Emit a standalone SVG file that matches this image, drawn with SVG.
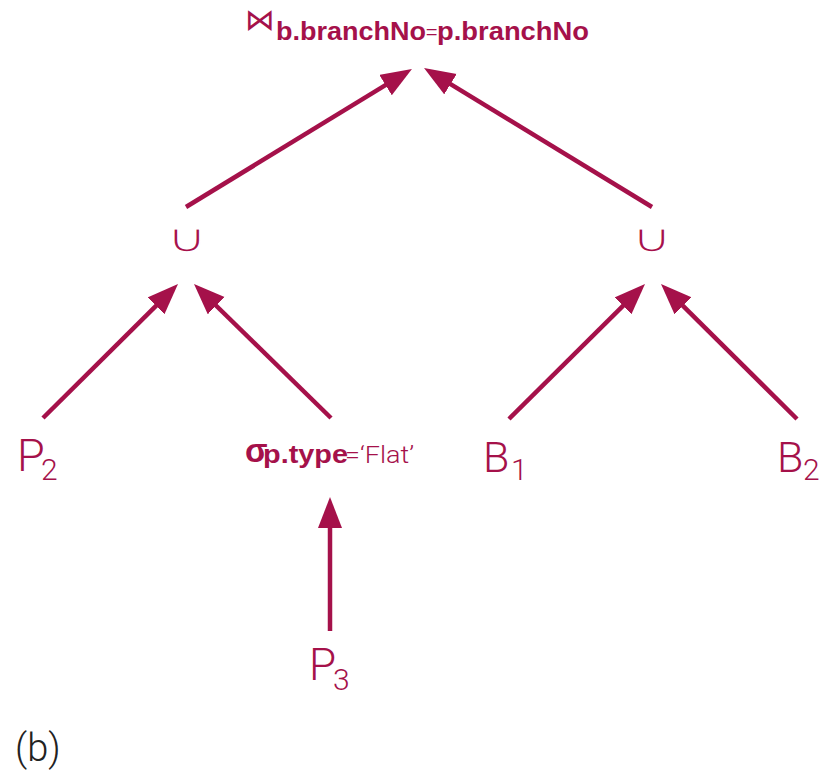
<svg xmlns="http://www.w3.org/2000/svg" width="829" height="773" viewBox="0 0 829 773">
  <style>
    .lbl { fill: #A5114A; font-family: Roboto, "Liberation Sans", sans-serif; font-weight: 300; }
    .sub { font-size: 30px; }
    .bold { fill: #A5114A; font-family: "Liberation Sans", Arial, sans-serif; font-weight: 700; font-size: 26px; }
    .thin { font-family: Roboto, "Liberation Sans", sans-serif; font-weight: 300; font-size: 24px; }
    .sym { fill: #A5114A; font-family: "DejaVu Sans", sans-serif; font-weight: 400; }
    /* union sign: white outline over the fill keeps the stroke light */
    .cup { fill: #A5114A; font-family: "DejaVu Sans", sans-serif; font-size: 56px; text-anchor: middle; stroke: #ffffff; stroke-width: 2; }
    .edge { stroke: #A5114A; stroke-width: 4.5; fill: none; marker-end: url(#head); }
  </style>
  <defs>
    <marker id="head" markerUnits="userSpaceOnUse" markerWidth="32" markerHeight="26" refX="11" refY="12" orient="auto">
      <path d="M0,0 L31,12 L0,24 Z" fill="#A5114A"/>
    </marker>
  </defs>
  <rect width="829" height="773" fill="#ffffff"/>

  <g id="connectors">
    <line class="edge" x1="186" y1="207" x2="394.9" y2="79.4"/>
    <line class="edge" x1="652" y1="207" x2="441.1" y2="78.4"/>
    <line class="edge" x1="43" y1="418" x2="163.8" y2="298.1"/>
    <line class="edge" x1="331" y1="418" x2="208.3" y2="298.0"/>
    <line class="edge" x1="509" y1="419" x2="630.8" y2="298.1"/>
    <line class="edge" x1="797" y1="419" x2="675.2" y2="298.1"/>
    <line class="edge" x1="330" y1="631" x2="330" y2="517"/>
  </g>

  <!-- join operator with its predicate as subscript -->
  <g id="join">
    <text class="bold" x="276" y="40"><tspan class="sym" x="245" y="30" font-size="30">⋈</tspan><tspan x="276" y="40" textLength="150" lengthAdjust="spacingAndGlyphs">b.branchNo</tspan><tspan class="thin" x="425" y="40">=</tspan><tspan x="437" y="40" textLength="152" lengthAdjust="spacingAndGlyphs">p.branchNo</tspan></text>
  </g>

  <g id="union-left">
    <text class="cup" transform="translate(187,252) scale(1,0.72)">∪</text>
  </g>
  <g id="union-right">
    <text class="cup" transform="translate(652,252) scale(1,0.72)">∪</text>
  </g>

  <g id="p2">
    <text class="lbl" x="17" y="471" font-size="45">P<tspan class="sub" x="41" y="480">2</tspan></text>
  </g>

  <g id="select">
    <text class="bold" x="245" y="462"><tspan font-size="33">σ</tspan><tspan x="263" y="463" textLength="85" lengthAdjust="spacingAndGlyphs">p.type</tspan><tspan class="thin" x="345" y="463" textLength="69" lengthAdjust="spacingAndGlyphs">=‘Flat’</tspan></text>
  </g>

  <g id="b1">
    <text class="lbl" x="483" y="472" font-size="43">B<tspan class="sub" x="511" y="480">1</tspan></text>
  </g>

  <g id="b2">
    <text class="lbl" x="777" y="472" font-size="43">B<tspan class="sub" x="803" y="480">2</tspan></text>
  </g>

  <g id="p3">
    <text class="lbl" x="309" y="680" font-size="44">P<tspan class="sub" x="333" y="690">3</tspan></text>
  </g>

  <text x="15" y="761" font-size="38" fill="#222222" font-family="Roboto, 'Liberation Sans', sans-serif" font-weight="300">(b)</text>
</svg>
